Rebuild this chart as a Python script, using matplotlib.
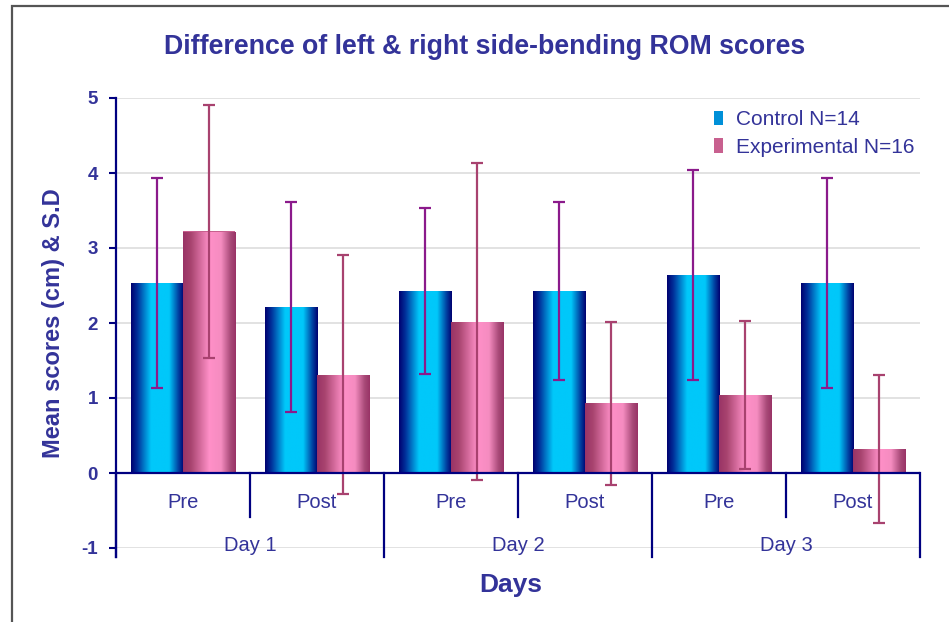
import matplotlib.pyplot as plt
import numpy as np
from matplotlib.colors import LinearSegmentedColormap
from matplotlib.patches import Rectangle

plt.rcParams['font.family'] = ['Liberation Sans', 'DejaVu Sans']
plt.rcParams['axes.unicode_minus'] = False

days = ['Day 1', 'Day 2', 'Day 3']
phases = ['Pre', 'Post', 'Pre', 'Post', 'Pre', 'Post']
control_mean = [2.54, 2.21, 2.43, 2.43, 2.64, 2.54]
control_sd = [1.40, 1.40, 1.11, 1.19, 1.40, 1.40]
exp_mean = [3.22, 1.31, 2.02, 0.93, 1.04, 0.32]
exp_sd = [1.69, 1.59, 2.11, 1.09, 0.99, 0.99]

txt = '#333399'
navy = '#000080'

fig = plt.figure(figsize=(9.49, 6.22), dpi=100)
ax = fig.add_axes([116/949, 1-548/622, (920-116)/949, (548-98)/622])

# outer frame
fig.add_artist(Rectangle((12/949, -0.05), 1.0, 1-6/622+0.05, transform=fig.transFigure,
                         fill=False, edgecolor='#555555', linewidth=1.6))

x = np.arange(len(phases))
w = 0.39
b1 = ax.bar(x - w/2, control_mean, w, color='#0090D8', label='Control N=14', zorder=2)
b2 = ax.bar(x + w/2, exp_mean, w, color='#C8608F', label='Experimental N=16', zorder=2)

cm_c = LinearSegmentedColormap.from_list('c', [(0, '#000070'), (0.12, '#00309A'), (0.38, '#00C8FA'),
                                              (0.72, '#00C8FA'), (0.9, '#0040A0'), (1, '#000070')])
cm_e = LinearSegmentedColormap.from_list('e', [(0, '#993366'), (0.15, '#A8446F'), (0.5, '#FF90C8'),
                                              (0.72, '#F58CC0'), (0.9, '#A84A78'), (1, '#993366')])
grad = np.linspace(0, 1, 256).reshape(1, -1)
for bars, cmap in ((b1, cm_c), (b2, cm_e)):
    for p in bars:
        x0, y0 = p.get_x(), p.get_y()
        im = ax.imshow(grad, cmap=cmap, aspect='auto', zorder=2.5,
                       extent=(x0, x0 + p.get_width(), y0, y0 + p.get_height()))
        im.set_clip_path(p)

ax.errorbar(x - w/2, control_mean, yerr=control_sd, fmt='none', ecolor='#8B1A8B',
            elinewidth=1.6, capsize=4.5, capthick=1.6, zorder=3)
ax.errorbar(x + w/2, exp_mean, yerr=exp_sd, fmt='none', ecolor='#A8426F',
            elinewidth=1.6, capsize=4.5, capthick=1.6, zorder=3)

ax.set_xlim(-0.5, 5.5)
ax.set_ylim(-1, 5)
ax.set_yticks(range(-1, 6))
ax.yaxis.grid(True, color='#DDDDDD', linewidth=1.2, zorder=0)
ax.set_axisbelow(True)
ax.set_xticks([])
ax.tick_params(axis='y', colors=navy, labelcolor=txt, length=5, width=1.5, labelsize=13.5, pad=8)
for lab in ax.get_yticklabels():
    lab.set_fontweight('bold')

for s in ('top', 'right', 'bottom'):
    ax.spines[s].set_visible(False)
ax.spines['left'].set_color(navy)
ax.spines['left'].set_linewidth(1.6)
ax.spines['left'].set_bounds(-1.12, 5)
ax.axhline(0, color=navy, linewidth=1.6, zorder=4)

# category separators and labels
for k in range(7):
    bottom = -1.12 if k % 2 == 0 else -0.59
    ax.plot([k - 0.5, k - 0.5], [0, bottom], color=navy, linewidth=1.6, clip_on=False, zorder=4)
for i, ph in enumerate(phases):
    ax.text(i, -0.39, ph, ha='center', va='center', color=txt, fontsize=14.5)
for j, d in enumerate(days):
    ax.text(2*j + 0.5, -0.97, d, ha='center', va='center', color=txt, fontsize=14.5)

fig.text(485/949, 1-47/622, 'Difference of left & right side-bending ROM scores', color=txt,
         fontsize=19.3, fontweight='bold', ha='center', va='center')
ax.set_ylabel('Mean scores (cm) & S.D', color=txt, fontsize=17, fontweight='bold', labelpad=12)
fig.text(511/949, 1-585/622, 'Days', ha='center', va='center', color=txt, fontsize=19, fontweight='bold')

leg = ax.legend(loc='upper left', bbox_to_anchor=(0.72, 1.014), frameon=False, fontsize=15,
                handlelength=0.45, handleheight=0.7, handletextpad=0.6, labelspacing=0.4)
for t in leg.get_texts():
    t.set_color(txt)

fig.savefig('out.png', dpi=100)
